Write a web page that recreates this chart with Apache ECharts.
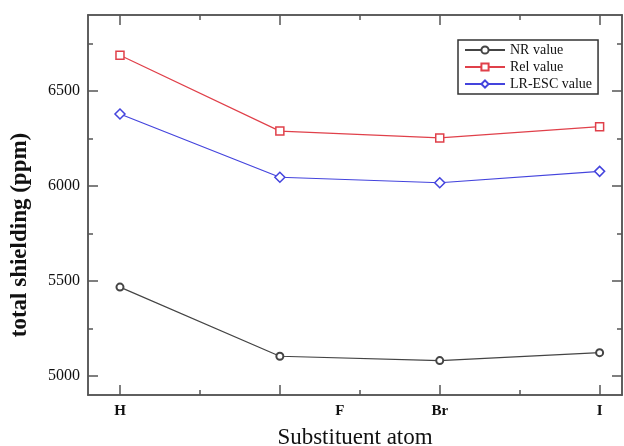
<!DOCTYPE html>
<html>
<head>
<meta charset="utf-8">
<script src="https://cdn.jsdelivr.net/npm/echarts@6/dist/echarts.min.js"></script>
<style>
  html, body { margin: 0; padding: 0; background: #fff; }
  #chart { width: 624px; height: 446px; }
</style>
</head>
<body>
<div id="chart"></div>
<script>
  // positions of the substituents along x (index order)
  var xPos = [0, 1, 2, 3]
  var nrValue = [5468, 5104, 5081, 5123]
  var relValue = [6688, 6289, 6253, 6312]
  var lrescValue = [6379, 6046, 6017, 6077]
  // tick labels as printed in the figure (F sits off its point in the original)
  var xTickLabels = ['H', 'F', 'Br', 'I']
  var xLabelAt = [0, 1.375, 2, 3]
  var xMajor = [0, 1, 2, 3]
  var xMinor = [0.5, 1.5, 2.5]
  var yTickLabels = [5000, 5500, 6000, 6500]
  var yMinor = [5250, 5750, 6250, 6750]

  var serif = '"Liberation Serif", "DejaVu Serif", serif'
  var axisColor = '#555'

  function pairs(vals) {
    return vals.map(function (v, i) { return [xPos[i], v] })
  }

  // one axis = a set of inward ticks, no labels
  function tickAxis(pos, range, values, len) {
    return {
      type: 'value',
      position: pos,
      min: range[0],
      max: range[1],
      axisLine: { show: true, onZero: false, lineStyle: { color: axisColor, width: 1.5 } },
      axisTick: { show: true, inside: true, length: len, customValues: values,
        lineStyle: { color: axisColor, width: 1.5 } },
      axisLabel: { show: false },
      splitLine: { show: false }
    }
  }

  var xRange = [-0.2, 3.14]
  var yRange = [4900, 6900]

  var xBottom = tickAxis('bottom', xRange, xMajor, 10)
  xBottom.axisLabel = {
    show: true,
    customValues: xLabelAt,
    formatter: function (v) { return xTickLabels[xLabelAt.indexOf(v)] || '' },
    color: '#111', fontFamily: serif, fontSize: 15, fontWeight: 'bold', margin: 9
  }
  xBottom.name = 'Substituent atom'
  xBottom.nameLocation = 'middle'
  xBottom.nameGap = 31
  xBottom.nameTextStyle = { color: '#111', fontFamily: serif, fontSize: 23 }

  var yLeft = tickAxis('left', yRange, yTickLabels, 10)
  yLeft.axisLabel = {
    show: true,
    customValues: yTickLabels,
    formatter: function (v) { return String(v) },
    color: '#111', fontFamily: serif, fontSize: 16, margin: 8
  }
  yLeft.name = 'total shielding (ppm)'
  yLeft.nameLocation = 'middle'
  yLeft.nameGap = 56
  yLeft.nameTextStyle = { color: '#111', fontFamily: serif, fontSize: 23, fontWeight: 'bold',
    padding: [0, 60, 0, 0] }

  var option = {
    backgroundColor: '#fff',
    animation: false,
    grid: { left: 88, right: 2, top: 15, bottom: 51, show: false, outerBoundsMode: 'none' },
    legend: {
      orient: 'vertical',
      left: 458,
      top: 40,
      padding: [3, 6, 3, 6],
      itemGap: 3,
      itemWidth: 40,
      itemHeight: 9,
      borderColor: '#333',
      borderWidth: 1.5,
      textStyle: { color: '#111', fontFamily: serif, fontSize: 14 },
      data: ['NR value', 'Rel value', 'LR-ESC value']
    },
    xAxis: [
      xBottom,
      tickAxis('bottom', xRange, xMinor, 5),
      tickAxis('top', xRange, xMajor, 10),
      tickAxis('top', xRange, xMinor, 5)
    ],
    yAxis: [
      yLeft,
      tickAxis('left', yRange, yMinor, 5),
      tickAxis('right', yRange, yTickLabels, 10),
      tickAxis('right', yRange, yMinor, 5)
    ],
    series: [
      {
        name: 'NR value', type: 'line', data: pairs(nrValue),
        symbol: 'emptyCircle', symbolSize: 7,
        itemStyle: { color: '#444', borderWidth: 1.5 },
        lineStyle: { color: '#444', width: 1.2 }
      },
      {
        name: 'Rel value', type: 'line', data: pairs(relValue),
        symbol: 'rect', symbolSize: 8,
        itemStyle: { color: '#fff', borderColor: '#e0404a', borderWidth: 1.5 },
        lineStyle: { color: '#e0404a', width: 1.2 }
      },
      {
        name: 'LR-ESC value', type: 'line', data: pairs(lrescValue),
        symbol: 'diamond', symbolSize: 10,
        itemStyle: { color: '#fff', borderColor: '#4444dd', borderWidth: 1.5 },
        lineStyle: { color: '#4444dd', width: 1.2 }
      }
    ]
  }

  var chart = echarts.init(document.getElementById('chart'))
  chart.setOption(option)
</script>
</body>
</html>
